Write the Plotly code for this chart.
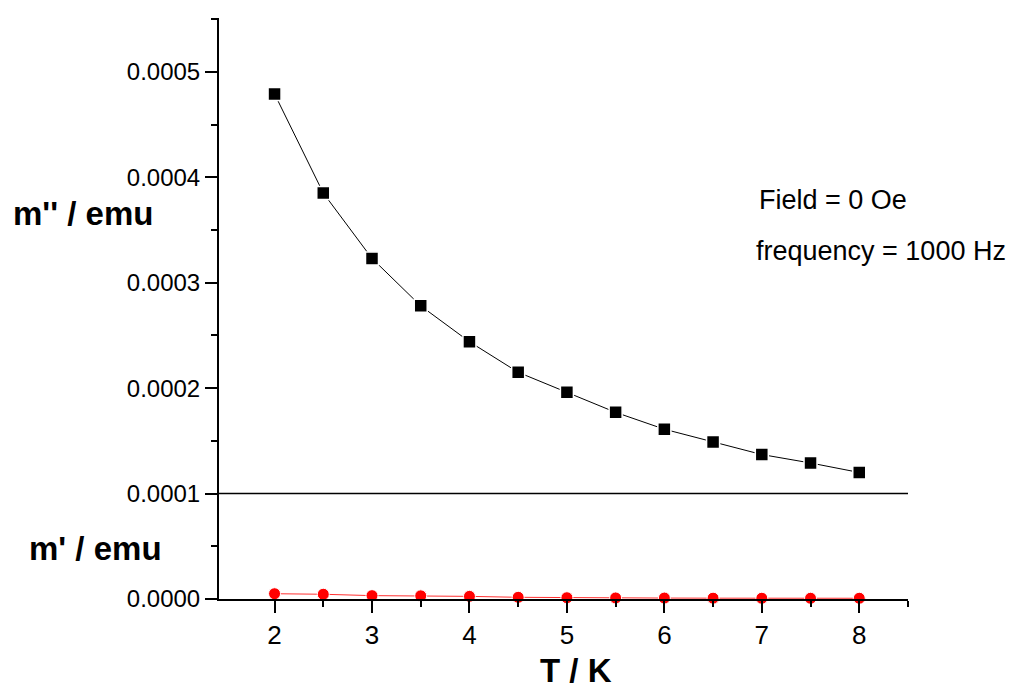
import plotly.graph_objects as go

T = [2, 2.5, 3, 3.5, 4, 4.5, 5, 5.5, 6, 6.5, 7, 7.5, 8]
m_dd = [0.000479, 0.000385, 0.000323, 0.000278, 0.000244, 0.000215, 0.000196,
        0.000177, 0.000161, 0.000149, 0.000137, 0.000129, 0.000120]
m_d = [0.0000050, 0.0000045, 0.0000032, 0.0000030, 0.0000025, 0.0000016, 0.0000012,
       0.0000010, 0.0000009, 0.0000008, 0.0000007, 0.0000007, 0.0000007]
x_major = [2, 3, 4, 5, 6, 7, 8]
x_minor = [2.5, 3.5, 4.5, 5.5, 6.5, 7.5, 8.5]
y_major = [0, 0.0001, 0.0002, 0.0003, 0.0004, 0.0005]
y_labels = ["0.0000", "0.0001", "0.0002", "0.0003", "0.0004", "0.0005"]

FONT = "Liberation Sans, Arial, sans-serif"

fig = go.Figure()
fig.add_trace(go.Scatter(
    x=T, y=m_d, mode="lines+markers",
    line=dict(color="#ff3030", width=1),
    marker=dict(symbol="circle", size=12, color="#ff0000", line=dict(color="white", width=1)),
    showlegend=False, cliponaxis=False))
fig.add_trace(go.Scatter(
    x=T, y=m_dd, mode="lines+markers",
    line=dict(color="black", width=1),
    marker=dict(symbol="square", size=13, color="black", line=dict(color="white", width=1.5)),
    showlegend=False, cliponaxis=False))

fig.add_shape(type="line", xref="paper", yref="y", x0=0, x1=1, y0=0.0001, y1=0.0001,
              line=dict(color="black", width=1.5))

fig.update_xaxes(
    range=[1.43, 8.5001], showgrid=False, zeroline=False,
    showline=True, linecolor="black", linewidth=2,
    tickmode="array", tickvals=x_major,
    ticks="outside", ticklen=12, tickwidth=2, tickcolor="black",
    minor=dict(ticks="outside", ticklen=6, tickwidth=2, tickcolor="black", tickvals=x_minor),
    tickfont=dict(family=FONT, size=26, color="black"))
fig.update_yaxes(
    range=[0, 0.000551], showgrid=False, zeroline=False,
    showline=True, linecolor="black", linewidth=2,
    tickmode="array", tickvals=y_major, ticktext=y_labels,
    ticks="outside", ticklen=12, tickwidth=2, tickcolor="black",
    minor=dict(ticks="outside", ticklen=6, tickwidth=2, tickcolor="black", dtick=0.00005, tick0=0),
    tickfont=dict(family=FONT, size=24, color="black"))

ann = [
    dict(text="<b>m'' / emu</b>", x=11, y=213, size=33, anchor="left"),
    dict(text="<b>m' / emu</b>", x=27, y=548, size=33, anchor="left"),
    dict(text="<b>T / K</b>", x=576, y=670, size=33, anchor="center"),
    dict(text="Field = 0 Oe", x=757, y=200, size=27, anchor="left"),
    dict(text="frequency = 1000 Hz", x=754, y=251, size=27, anchor="left"),
]
W, H = 1017, 696
for a in ann:
    fig.add_annotation(text=a["text"], xref="paper", yref="paper",
                       x=(a["x"] - 219) / (908 - 219), y=(599 - a["y"]) / (599 - 18),
                       xanchor=a["anchor"], yanchor="middle", showarrow=False,
                       font=dict(family=FONT, size=a["size"], color="black"))

fig.update_layout(
    width=W, height=H, plot_bgcolor="white", paper_bgcolor="white",
    margin=dict(l=219, r=W - 908, t=18, b=H - 599, autoexpand=False),
)
fig.write_html("out.html")
